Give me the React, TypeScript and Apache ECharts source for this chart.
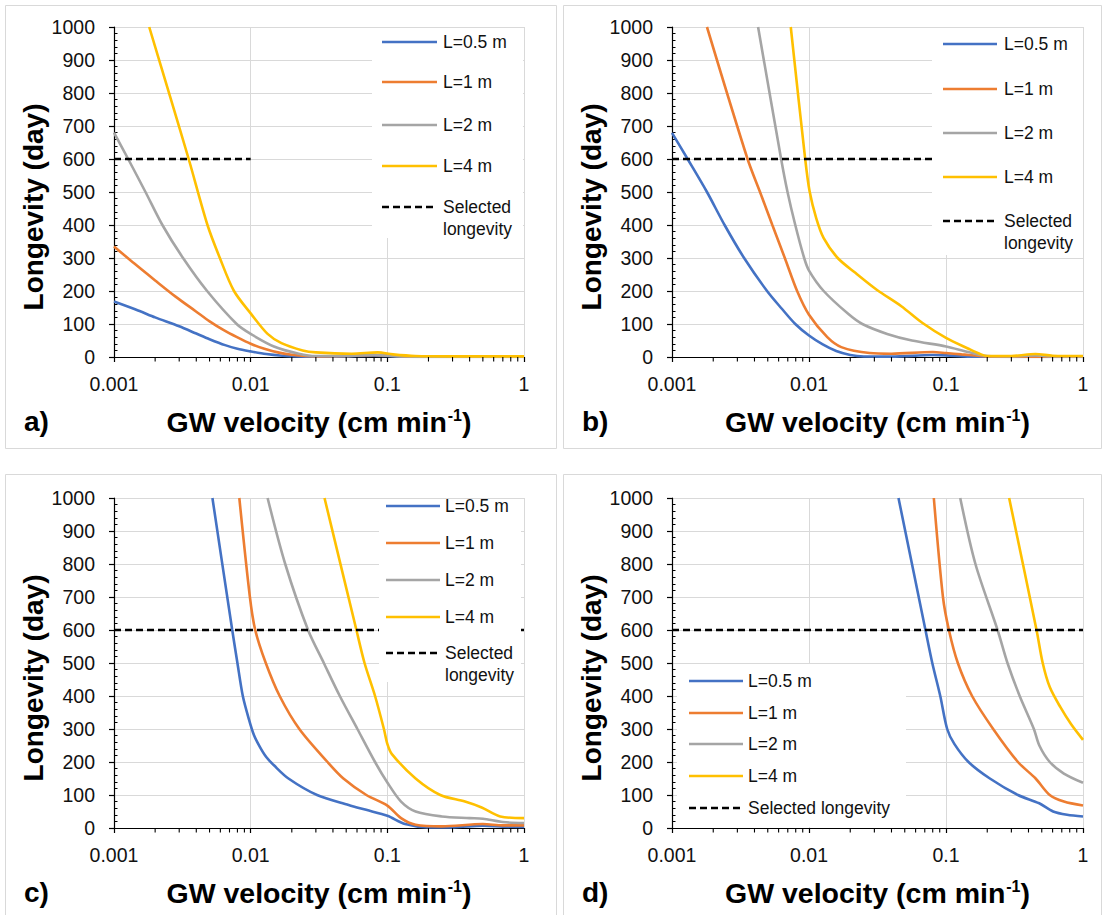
import React, { useEffect, useRef } from 'react';
import * as echarts from 'echarts';

const FONT = '"Liberation Sans", Arial, Helvetica, sans-serif';

// ---------- data ----------
const seriesNames = ['L=0.5 m', 'L=1 m', 'L=2 m', 'L=4 m'];
const selectedName = 'Selected longevity';
const seriesColors = ['#4472C4', '#ED7D31', '#A5A5A5', '#FFC000'];
const panelLetters = ['a)', 'b)', 'c)', 'd)'];
const xAxisMin = 0.001;
const xAxisMax = 1;
const yAxisMin = 0;
const yAxisMax = 1000;
const yAxisInterval = 100;
const xMinorTicks = [
  0.002, 0.003, 0.004, 0.005, 0.006, 0.007, 0.008, 0.009,
  0.02, 0.03, 0.04, 0.05, 0.06, 0.07, 0.08, 0.09,
  0.2, 0.3, 0.4, 0.5, 0.6, 0.7, 0.8, 0.9,
];

// panel a)
const panelA_L05 = [
  [0.001, 168], [0.0015, 141], [0.002, 120], [0.003, 93], [0.004, 71], [0.005, 54],
  [0.0065, 36], [0.008, 25], [0.01, 17], [0.013, 9], [0.017, 4], [0.022, 1.5], [0.03, 0.8],
  [0.05, 2], [0.08, 4], [0.1, 3], [0.13, 1], [0.2, 0.5], [0.5, 0.5], [1, 0.5],
];
const panelA_L1 = [
  [0.001, 335], [0.00141, 283], [0.002, 232], [0.00282, 183], [0.00398, 138], [0.00501, 108],
  [0.00631, 82], [0.00794, 60], [0.01, 40], [0.0126, 25], [0.0158, 14], [0.02, 7], [0.0251, 3],
  [0.0316, 2], [0.05, 3], [0.08, 6], [0.1, 5], [0.13, 2], [0.2, 1], [0.5, 1], [1, 1],
];
const panelA_L2 = [
  [0.001, 680], [0.00127, 600], [0.0017, 500], [0.00226, 400], [0.0032, 300], [0.0048, 200],
  [0.0079, 100], [0.01, 70], [0.0148, 32], [0.0225, 10], [0.03, 3], [0.05, 3], [0.08, 6],
  [0.1, 4], [0.13, 2], [0.2, 1], [1, 1],
];
const panelA_L4 = [
  [0.00181, 1000], [0.0026, 783], [0.00352, 600], [0.00483, 400], [0.00595, 300], [0.00755, 200],
  [0.0101, 130], [0.0133, 70], [0.0168, 42], [0.024, 20], [0.03, 14], [0.055, 10], [0.085, 14],
  [0.11, 8], [0.16, 3], [0.3, 2], [1, 2],
];
const panelA_selected = [[0.001, 600], [0.01, 600]];

// panel b)
const panelB_L05 = [
  [0.001, 679], [0.0013, 600], [0.0018, 500], [0.00242, 400], [0.00336, 300], [0.00494, 200],
  [0.00631, 147], [0.00794, 100], [0.01, 65], [0.0126, 38], [0.0158, 18], [0.02, 6], [0.0251, 1.5],
  [0.04, 1], [0.08, 6], [0.1, 5], [0.15, 1], [0.3, 0.5], [1, 0.5],
];
const panelB_L1 = [
  [0.0018, 1000], [0.00356, 600], [0.00439, 500], [0.0054, 400], [0.00666, 300], [0.00819, 200],
  [0.01, 128], [0.0136, 60], [0.0172, 30], [0.0277, 12], [0.04, 10], [0.08, 15], [0.1, 12],
  [0.13, 8], [0.2, 2], [0.5, 1], [1, 1],
];
const panelB_L2 = [
  [0.00425, 1000], [0.00626, 600], [0.00697, 500], [0.00794, 400], [0.00922, 300], [0.01, 262],
  [0.0128, 200], [0.0194, 130], [0.0245, 100], [0.0372, 70], [0.0564, 50], [0.1, 32],
  [0.146, 15], [0.2, 3], [0.3, 2], [0.45, 5], [0.6, 2], [1, 2],
];
const panelB_L4 = [
  [0.00736, 1000], [0.00938, 600], [0.0101, 502], [0.0113, 420], [0.0128, 360], [0.0162, 300],
  [0.0218, 255], [0.0312, 204], [0.0472, 154], [0.0674, 103], [0.1, 58], [0.146, 25],
  [0.18, 8], [0.2, 3], [0.3, 3], [0.45, 9], [0.6, 4], [1, 3],
];
const panelB_selected = [[0.001, 600], [1, 600]];

// panel c)
const panelC_L05 = [
  [0.00525, 1000], [0.00733, 600], [0.008, 500], [0.00876, 400], [0.0097, 330], [0.0106, 280],
  [0.0117, 245], [0.013, 215], [0.0148, 190], [0.0189, 150], [0.0306, 100], [0.0521, 70],
  [0.07, 55], [0.1, 37], [0.135, 12], [0.2, 2], [0.3, 2], [0.5, 7], [0.7, 4], [1, 3],
];
const panelC_L1 = [
  [0.00826, 1000], [0.00987, 700], [0.0108, 600], [0.0129, 500], [0.0163, 400], [0.0227, 300],
  [0.0365, 200], [0.0477, 150], [0.0702, 100], [0.1, 68], [0.126, 30], [0.161, 10],
  [0.25, 5], [0.5, 12], [0.7, 8], [1, 8],
];
const panelC_L2 = [
  [0.0133, 1000], [0.0179, 800], [0.0263, 600], [0.0343, 500], [0.0449, 400], [0.0604, 300],
  [0.0813, 200], [0.1, 138], [0.126, 80], [0.161, 50], [0.25, 35], [0.4, 30], [0.5, 28],
  [0.7, 18], [1, 15],
];
const panelC_L4 = [
  [0.0347, 1000], [0.0594, 600], [0.0681, 500], [0.0813, 400], [0.0944, 300], [0.1, 255],
  [0.108, 224], [0.161, 150], [0.244, 100], [0.37, 80], [0.49, 62], [0.67, 35], [1, 30],
];
const panelC_selected = [[0.001, 600], [1, 600]];

// panel d)
const panelD_L05 = [
  [0.045, 1000], [0.0708, 600], [0.0794, 500], [0.0908, 400], [0.102, 300], [0.115, 255],
  [0.146, 200], [0.209, 150], [0.335, 100], [0.479, 75], [0.605, 50], [0.765, 40], [1, 35],
];
const panelD_L1 = [
  [0.0815, 1000], [0.095, 700], [0.105, 600], [0.122, 500], [0.155, 400], [0.221, 300],
  [0.335, 200], [0.451, 150], [0.572, 100], [0.725, 80], [1, 68],
];
const panelD_L2 = [
  [0.127, 1000], [0.164, 800], [0.238, 600], [0.281, 500], [0.345, 400], [0.438, 300],
  [0.48, 250], [0.572, 200], [0.725, 165], [1, 137],
];
const panelD_L4 = [
  [0.289, 1000], [0.458, 600], [0.508, 500], [0.572, 427], [0.684, 366], [0.817, 315], [1, 267],
];
const panelD_selected = [[0.001, 600], [1, 600]];

const panelSeries = [
  [panelA_L05, panelA_L1, panelA_L2, panelA_L4],
  [panelB_L05, panelB_L1, panelB_L2, panelB_L4],
  [panelC_L05, panelC_L1, panelC_L2, panelC_L4],
  [panelD_L05, panelD_L1, panelD_L2, panelD_L4],
];
const panelSelected = [panelA_selected, panelB_selected, panelC_selected, panelD_selected];

// ---------- layout ----------
const grids = [
  { left: 114, top: 27, width: 410, height: 330 },
  { left: 672, top: 27, width: 411, height: 330 },
  { left: 114, top: 498, width: 410, height: 330 },
  { left: 672, top: 498, width: 411, height: 330 },
];
const panelBorders = [
  [5.5, 5.5, 551, 443],
  [563.5, 5.5, 538, 443],
  [5.5, 474.5, 551, 470],
  [563.5, 474.5, 538, 470],
];
const letterPos = [[24, 421], [582, 421], [24, 892], [582, 892]];
const legendLayouts = [
  { box: [372, 28, 151, 210], rows: [42, 82, 125, 166, 207], lineX: [382, 437], textX: 443, twoLine: true },
  { box: [932, 28, 151, 227], rows: [44, 89, 133, 177, 221], lineX: [943, 997], textX: 1004, twoLine: true },
  { box: [379, 499, 142, 183], rows: [506, 543, 580, 617, 653], lineX: [386, 440], textX: 445, twoLine: true },
  { box: [677, 664, 229, 163], rows: [681, 713, 744, 776, 808], lineX: [689, 743], textX: 748, twoLine: false },
];

const TEXT_COLOR = '#111';
const GRID_COLOR = '#d9d9d9';
const AXIS_COLOR = '#000';
const LINE_W = 2.6;
const DASH = [7, 4];

function fmtNum(v: number) {
  return String(Number(Number(v).toPrecision(6)));
}

function buildOption() {
  const xAxis: any[] = [];
  const yAxis: any[] = [];
  const series: any[] = [];
  const graphic: any[] = [];

  grids.forEach((_, i) => {
    xAxis.push({
      gridIndex: i,
      type: 'log',
      logBase: 10,
      min: xAxisMin,
      max: xAxisMax,
      name: 'GW velocity (cm min{sup|-1})',
      nameLocation: 'middle',
      nameGap: 50,
      nameTextStyle: {
        fontFamily: FONT,
        fontSize: 28.5,
        fontWeight: 'bold',
        color: '#000',
        rich: {
          sup: { fontFamily: FONT, fontSize: 16, fontWeight: 'bold', color: '#000', verticalAlign: 'top', padding: [0, 0, 0, 1] },
        },
      },
      axisLine: { show: true, onZero: false, lineStyle: { color: AXIS_COLOR, width: 1.2 } },
      axisTick: { show: true, length: 5, inside: false, lineStyle: { color: AXIS_COLOR, width: 1.2 } },
      axisLabel: { show: true, margin: 17, fontFamily: FONT, fontSize: 19.5, color: TEXT_COLOR, formatter: fmtNum },
      splitLine: { show: true, lineStyle: { color: GRID_COLOR, width: 1 } },
    });
    yAxis.push({
      gridIndex: i,
      type: 'value',
      min: yAxisMin,
      max: yAxisMax,
      interval: yAxisInterval,
      name: 'Longevity (day)',
      nameLocation: 'middle',
      nameGap: 57,
      nameTextStyle: {
        fontFamily: FONT,
        fontSize: 28,
        fontWeight: 'bold',
        color: '#000',
        padding: [0, 30, 0, 0],
      },
      axisLine: { show: true, onZero: false, lineStyle: { color: AXIS_COLOR, width: 1.2 } },
      axisTick: { show: true, length: 5, inside: false, lineStyle: { color: AXIS_COLOR, width: 1.2 } },
      axisLabel: { show: true, margin: 19, fontFamily: FONT, fontSize: 19.5, color: TEXT_COLOR, formatter: fmtNum },
      splitLine: { show: true, lineStyle: { color: GRID_COLOR, width: 1 } },
    });
  });
  // overlay y axes carrying the inside minor ticks
  grids.forEach((_, i) => {
    yAxis.push({
      gridIndex: i,
      type: 'value',
      min: yAxisMin,
      max: yAxisMax,
      interval: yAxisInterval,
      position: 'left',
      axisLine: { show: false, onZero: false },
      axisTick: { show: true, inside: true, length: 0 },
      axisLabel: { show: false },
      splitLine: { show: false },
      minorTick: { show: true, splitNumber: 5, length: 3.5, lineStyle: { color: AXIS_COLOR, width: 1 } },
    });
  });

  grids.forEach((_, i) => {
    panelSeries[i].forEach((data, k) => {
      series.push({
        name: seriesNames[k],
        type: 'line',
        xAxisIndex: i,
        yAxisIndex: i,
        data,
        showSymbol: false,
        symbol: 'none',
        smooth: 0.3,
        lineStyle: { color: seriesColors[k], width: LINE_W },
        itemStyle: { color: seriesColors[k] },
        z: 2,
      });
    });
    series.push({
      name: selectedName,
      type: 'line',
      xAxisIndex: i,
      yAxisIndex: i,
      data: panelSelected[i],
      showSymbol: false,
      symbol: 'none',
      lineStyle: { color: '#000', width: LINE_W, type: DASH },
      itemStyle: { color: '#000' },
      z: 3,
    });
    series.push({
      name: 'x minor ticks ' + i,
      type: 'custom',
      xAxisIndex: i,
      yAxisIndex: i,
      silent: true,
      clip: false,
      data: xMinorTicks.map((v) => [v, 0]),
      encode: { x: 0, y: 1 },
      renderItem: (params: any, api: any) => {
        const p = api.coord([api.value(0), api.value(1)]);
        return {
          type: 'line',
          shape: { x1: p[0], y1: p[1], x2: p[0], y2: p[1] + 4.5 },
          style: { stroke: AXIS_COLOR, lineWidth: 1.1 },
        };
      },
      z: 4,
    });
  });

  // panel borders
  panelBorders.forEach((b) => {
    graphic.push({
      type: 'rect',
      shape: { x: b[0], y: b[1], width: b[2], height: b[3] },
      style: { fill: 'none', stroke: GRID_COLOR, lineWidth: 1 },
      silent: true,
      z: 0,
    });
  });
  // panel letters
  letterPos.forEach((p, i) => {
    graphic.push({
      type: 'text',
      x: p[0],
      y: p[1],
      style: {
        text: panelLetters[i],
        fontFamily: FONT,
        fontSize: 28,
        fontWeight: 'bold',
        fill: '#000',
        align: 'left',
        verticalAlign: 'middle',
      },
      z: 10,
    });
  });
  // legends
  legendLayouts.forEach((lg) => {
    graphic.push({
      type: 'rect',
      shape: { x: lg.box[0], y: lg.box[1], width: lg.box[2], height: lg.box[3] },
      style: { fill: '#fff', stroke: 'none' },
      silent: true,
      z: 10,
    });
    const labels = [...seriesNames, selectedName];
    labels.forEach((name, k) => {
      const y = lg.rows[k];
      const isSel = k === 4;
      graphic.push({
        type: 'line',
        shape: { x1: lg.lineX[0], y1: y, x2: lg.lineX[1], y2: y },
        style: {
          stroke: isSel ? '#000' : seriesColors[k],
          lineWidth: LINE_W,
          lineDash: isSel ? DASH : null,
        },
        silent: true,
        z: 11,
      });
      const twoLine = isSel && lg.twoLine;
      graphic.push({
        type: 'text',
        x: lg.textX,
        y: twoLine ? y - 11 : y,
        style: {
          text: twoLine ? 'Selected\nlongevity' : name,
          fontFamily: FONT,
          fontSize: 17.5,
          lineHeight: 22,
          fill: TEXT_COLOR,
          align: 'left',
          verticalAlign: twoLine ? 'top' : 'middle',
        },
        silent: true,
        z: 11,
      });
    });
  });

  return {
    animation: false,
    backgroundColor: '#fff',
    textStyle: { fontFamily: FONT },
    grid: grids.map((g) => ({ ...g, containLabel: false })),
    xAxis,
    yAxis,
    series,
    graphic,
  };
}

export default function App() {
  const ref = useRef<HTMLDivElement>(null);
  useEffect(() => {
    document.body.style.margin = '0';
    const chart = echarts.init(ref.current as HTMLDivElement, null, { renderer: 'svg' });
    chart.setOption(buildOption() as any);
    return () => {
      chart.dispose();
    };
  }, []);
  return <div ref={ref} style={{ width: 1106, height: 915, background: '#fff' }} />;
}
